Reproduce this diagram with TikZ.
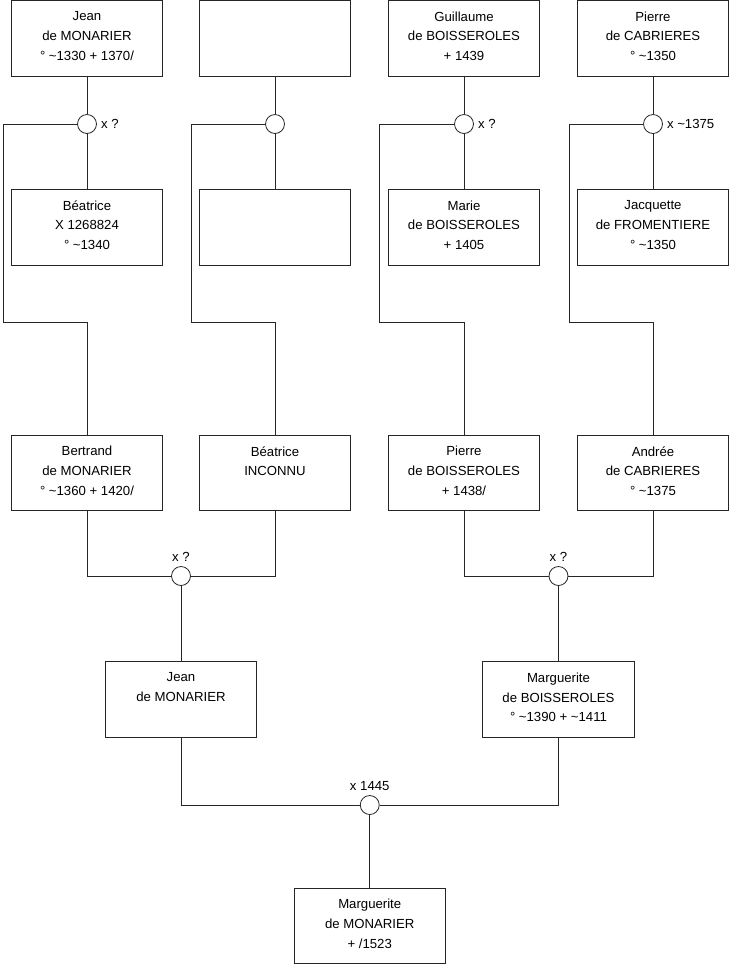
\documentclass[tikz,border=0pt]{standalone}
\usepackage{fontspec}
\setmainfont{Liberation Sans}
\tikzset{
  pb/.style={draw,minimum width=3.03cm,minimum height=1.514cm,inner sep=0pt},
  pt/.style={anchor=north,align=center,inner sep=0pt,yshift=-6.4pt,
    font=\fontsize{7.5}{11.2}\selectfont,execute at begin node=\strut},
  mc/.style={circle,draw,fill=white,minimum size=0.38cm,inner sep=0pt},
  ml/.style={inner sep=1pt,label distance=0.04cm,font=\fontsize{7.5}{11.2}\selectfont},
  every picture/.style={line width=0.45pt,draw=black!85},
}
\begin{document}
\begin{tikzpicture}[x=0.02cm,y=-0.02cm]
\useasboundingbox (0,0) rectangle (740,975);
% first row
\node[pb,label={[pt]north:{Jean\\de MONARIER\\° \textasciitilde1330 + 1370/}}] (jean1) at (87,38.3){};
\node[pb] (inc1) at (275,38.3){};
\node[pb,label={[pt]north:{Guillaume\\de BOISSEROLES\\+ 1439}}] (guil) at (464,38.3){};
\node[pb,label={[pt]north:{Pierre\\de CABRIERES\\° \textasciitilde1350}}] (pierre1) at (653,38.3){};
\node[mc,label={[ml]right:x ?}] (m1) at (87,124){}; \node[mc] (m2) at (275,124){};
\node[mc,label={[ml]right:x ?}] (m3) at (464,124){}; \node[mc,label={[ml]right:x \textasciitilde1375}] (m4) at (653,124){};
\node[pb,label={[pt]north:{Béatrice\\X 1268824\\° \textasciitilde1340}}] (beat1) at (87,227.2){};
\node[pb] (inc2) at (275,227.2){};
\node[pb,label={[pt]north:{Marie\\de BOISSEROLES\\+ 1405}}] (marie) at (464,227.2){};
\node[pb,label={[pt]north:{Jacquette\\de FROMENTIERE\\° \textasciitilde1350}}] (jacq) at (653,227.2){};
\draw (jean1)--(m1)--(beat1); \draw (inc1)--(m2)--(inc2);
\draw (guil)--(m3)--(marie); \draw (pierre1)--(m4)--(jacq);
% second row
\node[pb,label={[pt]north:{Bertrand\\de MONARIER\\° \textasciitilde1360 + 1420/}}] (bert) at (87,472.9){};
\node[pb,label={[pt]north:{Béatrice\\INCONNU}}] (beat2) at (275,472.9){};
\node[pb,label={[pt]north:{Pierre\\de BOISSEROLES\\+ 1438/}}] (pierre2) at (464,472.9){};
\node[pb,label={[pt]north:{Andrée\\de CABRIERES\\° \textasciitilde1375}}] (andree) at (653,472.9){};
\coordinate (k1) at (3,322); \coordinate (k2) at (191,322);
\coordinate (k3) at (379.5,322); \coordinate (k4) at (569,322);
\draw (m1)-|(k1)-|(bert); \draw (m2)-|(k2)-|(beat2);
\draw (m3)-|(k3)-|(pierre2); \draw (m4)-|(k4)-|(andree);
\node[mc,label={[ml]above:x ?}] (m5) at (181,576){}; \node[mc,label={[ml]above:x ?}] (m6) at (558.5,576){};
\draw (bert)|-(m5)-|(beat2); \draw (pierre2)|-(m6)-|(andree);
% third row
\node[pb,label={[pt]north:{Jean\\de MONARIER}}] (jean2) at (181,699.5){};
\node[pb,label={[pt]north:{Marguerite\\de BOISSEROLES\\° \textasciitilde1390 + \textasciitilde1411}}] (marg1) at (558.5,699.5){};
\draw (m5)--(jean2); \draw (m6)--(marg1);
\node[mc,label={[ml]above:x 1445}] (m7) at (369.75,805){};
\node[pb,label={[pt]north:{Marguerite\\de MONARIER\\+ /1523}}] (marg2) at (369.75,926){};
\draw (jean2)|-(m7)-|(marg1); \draw (m7)--(marg2);
\end{tikzpicture}
\end{document}
